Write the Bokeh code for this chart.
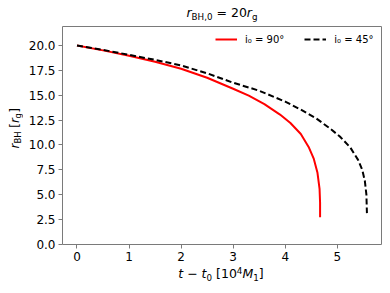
from bokeh.plotting import figure
from bokeh.models import Range1d, FixedTicker, PrintfTickFormatter, Legend, LegendItem, Div
from bokeh.layouts import column, row
from bokeh.embed import file_html
from bokeh.resources import INLINE

# ---- data ----
t_90 = [0, 0.5, 1.0, 1.5, 2.0, 2.5, 3.0, 3.3, 3.6, 3.9, 4.1, 4.3, 4.45, 4.55, 4.62, 4.66, 4.67, 4.67]
r_90 = [20, 19.5, 18.97, 18.35, 17.66, 16.75, 15.65, 14.95, 14.1, 13.05, 12.2, 11.1, 9.8, 8.6, 7.2, 5.6, 4.2, 2.75]
t_45 = [0, 0.5, 1.0, 1.5, 2.0, 2.5, 3.0, 3.5, 4.0, 4.3, 4.6, 4.85, 5.05, 5.25, 5.4, 5.48, 5.53, 5.56, 5.57]
r_45 = [20, 19.55, 19.05, 18.55, 17.99, 17.2, 16.25, 15.45, 14.35, 13.55, 12.65, 11.7, 10.85, 9.75, 8.5, 7.5, 6.4, 5.0, 3.15]
x_ticks = [0, 1, 2, 3, 4, 5]
y_ticks = [0, 2.5, 5, 7.5, 10, 12.5, 15, 17.5, 20]
label_90 = "i\u2080 = 90\u00b0"
label_45 = "i\u2080 = 45\u00b0"

FONT = "DejaVu Sans"
GREY = "#7a7a7a"

p = figure(width=358, height=241, output_backend="svg", toolbar_location=None,
           x_range=Range1d(-0.2785, 5.85), y_range=Range1d(0, 21.9),
           min_border_left=38, min_border_right=1, min_border_top=1, min_border_bottom=22)
p.grid.visible = False
p.outline_line_color = GREY
p.outline_line_width = 1
p.background_fill_color = "white"
p.border_fill_color = "white"

for ax in (p.xaxis[0], p.yaxis[0]):
    ax.axis_line_color = None
    ax.major_tick_line_color = GREY
    ax.major_tick_in = 0
    ax.major_tick_out = 4
    ax.minor_tick_line_color = None
    ax.major_label_text_font = FONT
    ax.major_label_text_font_size = "12px"
    ax.major_label_text_color = "black"
    ax.major_label_standoff = 3
p.xaxis.ticker = FixedTicker(ticks=x_ticks)
p.yaxis.ticker = FixedTicker(ticks=y_ticks)
p.yaxis.formatter = PrintfTickFormatter(format="%.1f")

r1 = p.line(t_90, r_90, line_color="red", line_width=2)
r2 = p.line(t_45, r_45, line_color="black", line_width=2, line_dash="6 3")

leg = Legend(items=[LegendItem(label=label_90, renderers=[r1]),
                    LegendItem(label=label_45, renderers=[r2])],
             orientation="horizontal", location=(153, 199))
leg.border_line_alpha = 0
leg.background_fill_alpha = 0
leg.padding = 0
leg.margin = 0
leg.spacing = 20
leg.label_standoff = 8
leg.glyph_width = 22
leg.glyph_height = 10
leg.label_text_font = FONT
leg.label_text_font_size = "10px"
leg.label_text_color = "black"
leg.label_height = 12
p.add_layout(leg, "center")

# ---- labels with sub/superscripts as HTML text ----
SUB_T = "position:relative; top:2.5px; font-size:8.75px;"
title_html = (
    '<div style="width:320px; height:25px; margin-left:62px; box-sizing:border-box; padding-top:5px; '
    "text-align:center; font-family:'DejaVu Sans'; font-size:12.5px; line-height:15px; color:black; white-space:nowrap;\">"
    f'<i>r</i><span style="{SUB_T}">BH,0</span> = 20<i>r</i><span style="{SUB_T}">g</span></div>'
)
title_div = Div(text=title_html, width=382, height=25, margin=0)

SUB_V = "position:relative; left:-2.5px; font-size:8.4px;"
ylab_html = (
    '<div style="width:24px; height:206px; display:flex; align-items:center; justify-content:center; padding-left:6px; box-sizing:border-box;">'
    "<div style=\"writing-mode:vertical-rl; transform:rotate(180deg); font-family:'DejaVu Sans'; font-size:12px; "
    'line-height:14px; white-space:nowrap; color:black;">'
    f'<i>r</i><span style="{SUB_V}">BH</span> [<i>r</i><span style="{SUB_V}">g</span>]</div></div>'
)
ylab_div = Div(text=ylab_html, width=24, height=241, margin=0)

SUB_X = "position:relative; top:2.5px; font-size:8.75px;"
SUP_X = "position:relative; top:-4.5px; font-size:8.75px;"
xlab_html = (
    '<div style="width:322px; height:19px; margin-left:60px; box-sizing:border-box; padding-top:0px; '
    "text-align:center; font-family:'DejaVu Sans'; font-size:12.5px; line-height:12px; color:black; white-space:nowrap;\">"
    f'<i>t</i> \u2212 <i>t</i><span style="{SUB_X}">0</span> [10<span style="{SUP_X}">4</span>'
    f'<i>M</i><span style="{SUB_X}">1</span>]</div>'
)
xlab_div = Div(text=xlab_html, width=382, height=19, margin=0)

layout = column(title_div, row(ylab_div, p), xlab_div)

open("out.html", "w").write(file_html(layout, INLINE))
